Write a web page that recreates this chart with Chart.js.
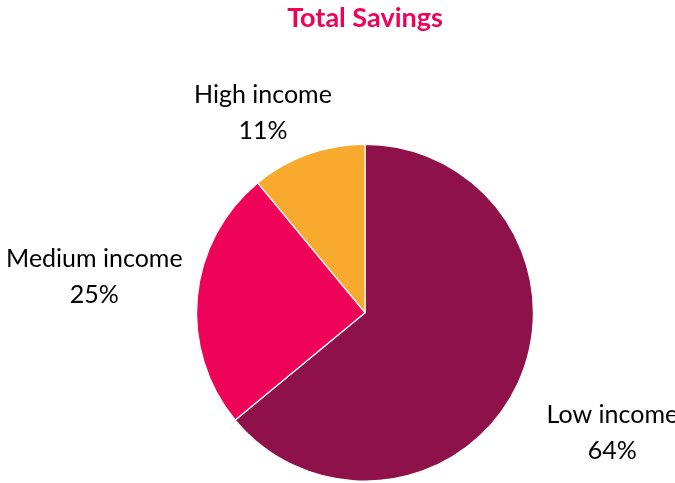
<!DOCTYPE html>
<html>
<head>
<meta charset="utf-8">
<script src="https://cdn.jsdelivr.net/npm/chart.js@4/dist/chart.umd.min.js"></script>
<style>
  body { margin: 0; background: #fff; }
</style>
</head>
<body>
<canvas id="savings-chart" width="675" height="483"></canvas>
<script>
// Chart data
var categories = ["Low income", "Medium income", "High income"];
var shares = [64, 25, 11];
var sliceColors = ["#8E1249", "#EE0358", "#F8AA2F"];

// label block offsets from slice edge (dx, dy)
var labelShift = [[95, 49], [-103, -20], [-45, -41]];

var outsideLabels = {
    id: "outsideLabels",
    afterDatasetsDraw: function(chart) {
        var ctx = chart.ctx;
        var meta = chart.getDatasetMeta(0);
        ctx.save();
        ctx.font = "25px Lato, 'Open Sans', sans-serif";
        ctx.fillStyle = "#000";
        ctx.textAlign = "center";
        ctx.textBaseline = "middle";
        meta.data.forEach(function(arc, i) {
            var mid = (arc.startAngle + arc.endAngle) / 2;
            var bx = arc.x + Math.cos(mid) * arc.outerRadius + labelShift[i][0];
            var by = arc.y + Math.sin(mid) * arc.outerRadius + labelShift[i][1];
            ctx.fillText(categories[i], bx, by - 18);
            ctx.fillText(shares[i] + "%", bx, by + 18);
        });
        ctx.restore();
    }
};

var ctx = document.getElementById("savings-chart");

var chartData = {
    labels: categories,
    datasets: [{
        data: shares,
        backgroundColor: sliceColors,
        borderColor: "#ffffff",
        borderWidth: 1.2
    }]
};

var config = {
    type: "pie",
    data: chartData,
    options: {
        responsive: false,
        animation: false,
        layout: {
            padding: { left: 196, right: 141, top: 0, bottom: 0 }
        },
        plugins: {
            legend: { display: false },
            tooltip: { enabled: false },
            title: {
                display: true,
                text: "Total Savings",
                color: "#EE0358",
                font: { family: "Lato, 'Open Sans', sans-serif", size: 27, weight: "bold" },
                padding: { top: 2, bottom: 108 }
            }
        }
    },
    plugins: [outsideLabels]
};

// Create the chart
var pieChart = new Chart(ctx, config);
</script>
</body>
</html>
